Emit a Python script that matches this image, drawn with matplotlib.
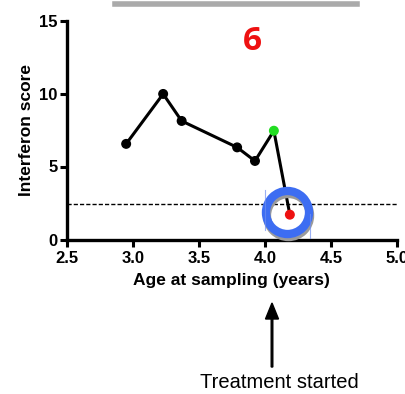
import matplotlib
matplotlib.use("Agg")
import matplotlib.pyplot as plt
from matplotlib.patches import FancyArrow
from matplotlib.lines import Line2D

plt.rcParams['font.family'] = ['Liberation Sans', 'DejaVu Sans']

age = [2.95, 3.23, 3.37, 3.79, 3.925, 4.068, 4.189]
score = [6.55, 9.97, 8.12, 6.31, 5.38, 7.45, 1.70]
point_colors = ['black', 'black', 'black', 'black', 'black', '#22dd22', '#ee1111']
threshold = 2.4
xticks = [2.5, 3.0, 3.5, 4.0, 4.5, 5.0]
yticks = [0, 5, 10, 15]

W, H = 405, 394
fig = plt.figure(figsize=(W/100, H/100), dpi=100)
ax = fig.add_axes([66.7/W, 1-239.5/H, (397-66.7)/W, (239.5-20.5)/H])
ax.set_xlim(2.5, 5.0)
ax.set_ylim(0, 15)

ax.axhline(threshold, color='black', lw=1.0, ls=(0, (3, 1.5)), zorder=1)
ax.plot(age, score, color='black', lw=2.2, zorder=2, clip_on=False)
ax.scatter(age, score, c=point_colors, s=38, zorder=3, clip_on=False)

# highlight ring
cx, cy = 4.166, 1.88
ax.plot([cx + 0.01], [cy - 0.22], marker='o', ms=31, mfc='none', mec='#9a9a9a', mew=6, zorder=4, clip_on=False)
ax.plot([cx], [cy], marker='o', ms=31, mfc='none', mec='#3d6df2', mew=6, zorder=5, clip_on=False)
fig.add_artist(Line2D([265/W, 265/W], [1-230/H, 1-190/H], color='#6f8ff0', lw=0.8, alpha=0.7))
fig.add_artist(Line2D([309.5/W, 309.5/W], [1-238/H, 1-214/H], color='#6f8ff0', lw=0.8, alpha=0.7))

for s in ['top', 'right']:
    ax.spines[s].set_visible(False)
for s in ['left', 'bottom']:
    ax.spines[s].set_linewidth(2.4)
ax.set_xticks(xticks)
ax.set_yticks(yticks)
ax.set_xticklabels([f"{v:.1f}" for v in xticks], fontsize=12, fontweight='bold')
ax.set_yticklabels([str(v) for v in yticks], fontsize=12, fontweight='bold')
ax.tick_params(axis='x', direction='out', length=5, width=2.2, pad=3.5)
ax.tick_params(axis='y', direction='out', length=5, width=2.2, pad=1.5)
ax.set_xlabel('Age at sampling (years)', fontsize=12.5, fontweight='bold', labelpad=5)
ax.set_ylabel('Interferon score', fontsize=12.5, fontweight='bold', labelpad=4)

fig.text(252/W, 1-41/H, '6', color='#ee1111', fontsize=24, fontweight='bold',
         ha='center', va='center', family=['Open Sans', 'DejaVu Sans'])
fig.add_artist(Line2D([115/W, 357/W], [1-3.5/H, 1-3.5/H], color='#aaaaaa', lw=4))

arrow = FancyArrow(272/W, 1-367/H, 0, (367-303)/H, width=1.6/W, head_width=13/W,
                   head_length=16/H, length_includes_head=True, color='black',
                   transform=fig.transFigure)
fig.add_artist(arrow)
fig.text(279/W, 1-383/H, 'Treatment started', fontsize=14.5, ha='center', va='center')

fig.savefig('out.png', dpi=100)
